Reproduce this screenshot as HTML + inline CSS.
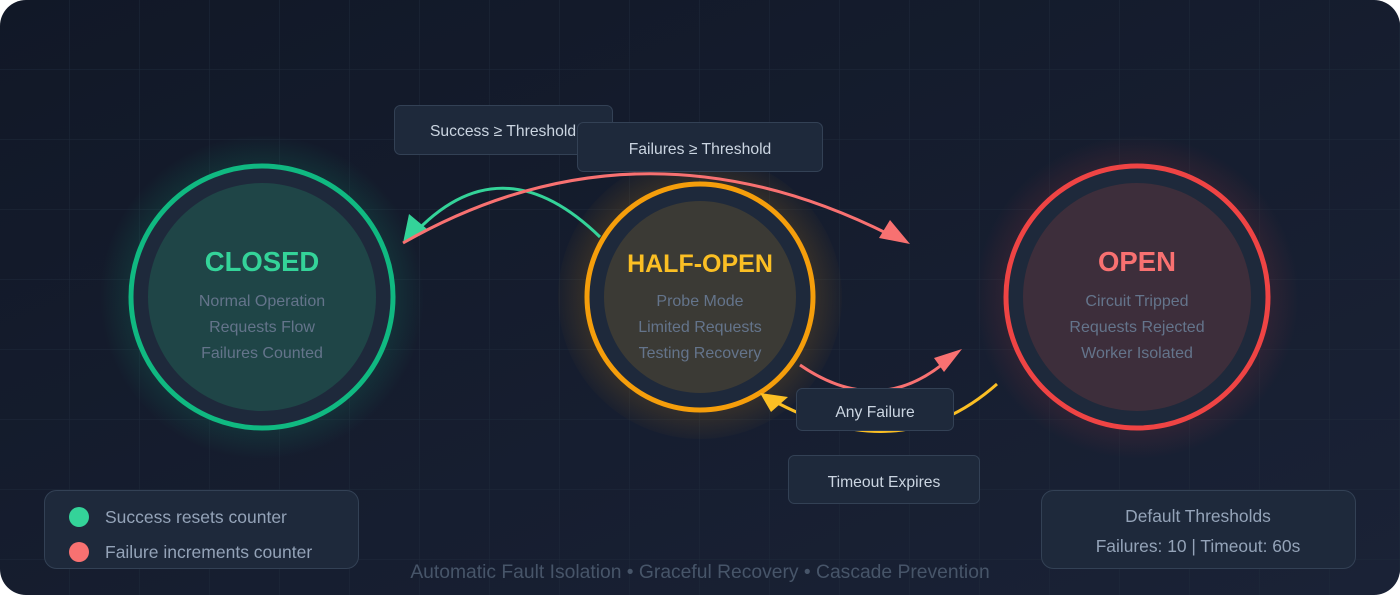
<!DOCTYPE html>
<html><head><meta charset="utf-8"><style>
html,body{margin:0;padding:0;background:#fff;width:1400px;height:595px;overflow:hidden}
svg{display:block}
text{font-family:"Liberation Sans",sans-serif}
</style></head><body>
<svg width="1400" height="595" viewBox="0 0 1400 595" xmlns="http://www.w3.org/2000/svg">
<defs>
<linearGradient id="bg" x1="0" y1="0" x2="1" y2="1">
<stop offset="0" stop-color="#111827"/><stop offset="1" stop-color="#1a2236"/></linearGradient>
<pattern id="grid" width="70" height="70" patternUnits="userSpaceOnUse">
<path d="M70 0V70H0" fill="none" stroke="#1f2a3b" stroke-width="1"/></pattern>
<radialGradient id="gG"><stop offset="0.7" stop-color="#10b981" stop-opacity="0.2"/><stop offset="1" stop-color="#10b981" stop-opacity="0"/></radialGradient>
<radialGradient id="gO"><stop offset="0.75" stop-color="#f59e0b" stop-opacity="0.16"/><stop offset="1" stop-color="#f59e0b" stop-opacity="0.02"/></radialGradient>
<radialGradient id="gR"><stop offset="0.7" stop-color="#ef4444" stop-opacity="0.16"/><stop offset="1" stop-color="#ef4444" stop-opacity="0"/></radialGradient>
</defs>
<rect x="0" y="0" width="1400" height="595" rx="26" fill="url(#bg)"/>
<rect x="0" y="0" width="1400" height="595" rx="26" fill="url(#grid)"/>

<!-- halos -->
<circle cx="262" cy="297" r="162" fill="url(#gG)"/>
<circle cx="700" cy="297" r="142" fill="url(#gO)"/>
<circle cx="1137" cy="297" r="162" fill="url(#gR)"/>

<!-- closed -->
<circle cx="262" cy="297" r="131" fill="#1e293b" stroke="#10b981" stroke-width="5"/>
<circle cx="262" cy="297" r="114" fill="#1f4547"/>
<text x="262" y="271" text-anchor="middle" font-size="27.5" font-weight="bold" fill="#34d399">CLOSED</text>
<text x="262" y="306" text-anchor="middle" font-size="16" fill="#64748b">Normal Operation</text>
<text x="262" y="332" text-anchor="middle" font-size="16" fill="#64748b">Requests Flow</text>
<text x="262" y="358" text-anchor="middle" font-size="16" fill="#64748b">Failures Counted</text>

<!-- half-open -->
<circle cx="700" cy="297" r="113" fill="#1e293b" stroke="#f59e0b" stroke-width="5"/>
<circle cx="700" cy="297" r="96" fill="#3b3a35"/>
<text x="700" y="272" text-anchor="middle" font-size="25" font-weight="bold" fill="#fbbf24">HALF-OPEN</text>
<text x="700" y="306" text-anchor="middle" font-size="16" fill="#64748b">Probe Mode</text>
<text x="700" y="332" text-anchor="middle" font-size="16" fill="#64748b">Limited Requests</text>
<text x="700" y="358" text-anchor="middle" font-size="16" fill="#64748b">Testing Recovery</text>

<!-- open -->
<circle cx="1137" cy="297" r="131" fill="#1e293b" stroke="#ef4444" stroke-width="5"/>
<circle cx="1137" cy="297" r="114" fill="#3d2e3b"/>
<text x="1137" y="271" text-anchor="middle" font-size="27.5" font-weight="bold" fill="#f87171">OPEN</text>
<text x="1137" y="306" text-anchor="middle" font-size="16" fill="#64748b">Circuit Tripped</text>
<text x="1137" y="332" text-anchor="middle" font-size="16" fill="#64748b">Requests Rejected</text>
<text x="1137" y="358" text-anchor="middle" font-size="16" fill="#64748b">Worker Isolated</text>

<!-- labels (boxes behind arrows) -->
<rect x="394.5" y="105.5" width="218" height="49" rx="6" fill="#1e293b" stroke="#334155"/>
<text x="503" y="136" text-anchor="middle" font-size="15.7" fill="#cbd5e1">Success ≥ Threshold</text>
<rect x="577.5" y="122.5" width="245" height="49" rx="6" fill="#1e293b" stroke="#334155"/>
<text x="700" y="154" text-anchor="middle" font-size="15.7" fill="#cbd5e1">Failures ≥ Threshold</text>

<!-- arrows -->
<path d="M600 237 Q500 140 412 236" fill="none" stroke="#34d399" stroke-width="3"/>
<path d="M403 243 L409 214 L427 229 z" fill="#34d399"/>
<path d="M403 243 Q640 108 892 236" fill="none" stroke="#f87171" stroke-width="3"/>
<path d="M910 244 L879 238 L890 220 z" fill="#f87171"/>
<path d="M800 365 Q880 420 950 358" fill="none" stroke="#f87171" stroke-width="3"/>
<path d="M962 349 L944 372 L934 358 z" fill="#f87171"/>
<path d="M997 384 Q900 470 772 400" fill="none" stroke="#fbbf24" stroke-width="3"/>
<path d="M760 393 L788 397 L771 412 z" fill="#fbbf24"/>

<rect x="796.5" y="388.5" width="157" height="42" rx="6" fill="#1e293b" stroke="#334155"/>
<text x="875" y="417" text-anchor="middle" font-size="15.7" fill="#cbd5e1">Any Failure</text>
<rect x="788.5" y="455.5" width="191" height="48" rx="6" fill="#1e293b" stroke="#334155"/>
<text x="884" y="487" text-anchor="middle" font-size="15.7" fill="#cbd5e1">Timeout Expires</text>

<!-- legend -->
<rect x="44.5" y="490.5" width="314" height="78" rx="12" fill="#1e293b" stroke="#334155"/>
<circle cx="79" cy="517" r="10" fill="#34d399"/>
<text x="105" y="523" font-size="17.5" fill="#94a3b8">Success resets counter</text>
<circle cx="79" cy="552" r="10" fill="#f87171"/>
<text x="105" y="558" font-size="17.5" fill="#94a3b8">Failure increments counter</text>

<rect x="1041.5" y="490.5" width="314" height="78" rx="12" fill="#1e293b" stroke="#334155"/>
<text x="1198" y="522" text-anchor="middle" font-size="17.4" fill="#94a3b8">Default Thresholds</text>
<text x="1198" y="552" text-anchor="middle" font-size="17.4" fill="#94a3b8">Failures: 10 | Timeout: 60s</text>

<text x="700" y="578" text-anchor="middle" font-size="19.3" fill="#475569">Automatic Fault Isolation • Graceful Recovery • Cascade Prevention</text>
</svg>
</body></html>
